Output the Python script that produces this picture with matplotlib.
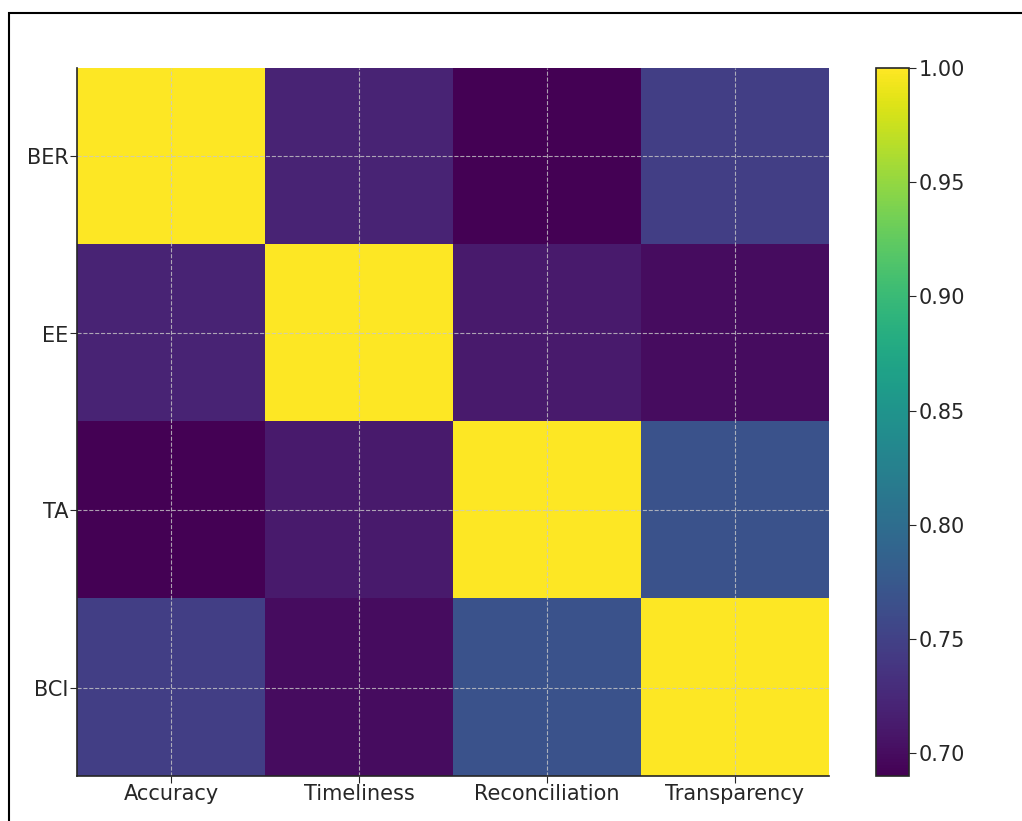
import numpy as np
import matplotlib.pyplot as plt
from matplotlib.patches import Rectangle

# row / column labels
rows = ["BER", "EE", "TA", "BCI"]
cols = ["Accuracy", "Timeliness", "Reconciliation", "Transparency"]

# correlation-like values
ber = [1.00, 0.721, 0.690, 0.747]
ee = [0.721, 1.00, 0.713, 0.700]
ta = [0.690, 0.713, 1.00, 0.768]
bci = [0.747, 0.700, 0.768, 1.00]

data = np.array([ber, ee, ta, bci])

txt = "#262626"

fig = plt.figure(figsize=(10.22, 8.21), dpi=100)
ax = fig.add_axes([77/1022, 1-776/821, (829-77)/1022, (776-68)/821])
cax = fig.add_axes([876/1022, 1-776/821, (909-876)/1022, (776-68)/821])

im = ax.imshow(data, cmap="viridis", aspect="auto", interpolation="nearest")
ax.set_xticks(range(len(cols)))
ax.set_xticklabels(cols, fontsize=15, color=txt)
ax.set_yticks(range(len(rows)))
ax.set_yticklabels(rows, fontsize=15, color=txt)
ax.grid(True, color="#c8c8c8", linestyle="--", linewidth=0.8, alpha=0.8)
ax.tick_params(axis="y", length=5, color=txt, pad=1)
ax.tick_params(axis="x", length=5, color=txt, pad=1)
for s in ["top", "right"]:
    ax.spines[s].set_visible(False)
for s in ["left", "bottom"]:
    ax.spines[s].set_color(txt)
    ax.spines[s].set_linewidth(1.2)

cb = fig.colorbar(im, cax=cax)
cb.set_ticks([0.70, 0.75, 0.80, 0.85, 0.90, 0.95, 1.00])
cb.ax.tick_params(labelsize=15, labelcolor=txt, color=txt, length=5, pad=2)
cb.outline.set_edgecolor(txt)
cb.outline.set_linewidth(1.2)

# screenshot frame around the figure
fig.patches.append(Rectangle((9/1022, -0.1), 1.2, 1-13/821+0.1,
                             transform=fig.transFigure, fill=False,
                             edgecolor="black", linewidth=1.5))

fig.savefig("out.png", dpi=100)
